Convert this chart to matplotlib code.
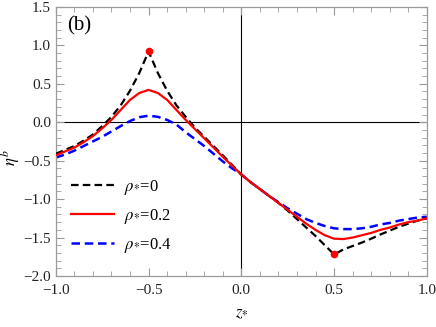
import numpy as np
import matplotlib
matplotlib.use('Agg')
import matplotlib.pyplot as plt
from matplotlib.ticker import MultipleLocator, FuncFormatter

plt.rcParams['font.family'] = 'Liberation Serif'
plt.rcParams['mathtext.fontset'] = 'stix'

z = [-1.00, -0.95, -0.90, -0.85, -0.80, -0.75, -0.70, -0.65, -0.60, -0.55,
     -0.50, -0.45, -0.40, -0.35, -0.30, -0.25, -0.20, -0.15, -0.10, -0.05,
     0.00, 0.05, 0.10, 0.15, 0.20, 0.25, 0.30, 0.35, 0.40, 0.45,
     0.50, 0.55, 0.60, 0.65, 0.70, 0.75, 0.80, 0.85, 0.90, 0.95, 1.00]

eta_rho0 = [-0.41, -0.36, -0.31, -0.24, -0.16, -0.05, 0.07, 0.22, 0.41, 0.64,
            0.92, 0.64, 0.41, 0.22, 0.07, -0.07, -0.19, -0.31, -0.43, -0.555,
            -0.68, -0.78, -0.87, -0.96, -1.05, -1.15, -1.26, -1.37, -1.48, -1.60,
            -1.72, -1.655, -1.61, -1.565, -1.515, -1.46, -1.41, -1.36, -1.32, -1.28, -1.25]

eta_rho02 = [-0.43, -0.38, -0.33, -0.26, -0.18, -0.08, 0.03, 0.16, 0.29, 0.38,
             0.42, 0.38, 0.29, 0.16, 0.03, -0.09, -0.21, -0.33, -0.45, -0.565,
             -0.68, -0.78, -0.87, -0.96, -1.05, -1.14, -1.23, -1.32, -1.40, -1.47,
             -1.515, -1.52, -1.50, -1.47, -1.44, -1.40, -1.37, -1.33, -1.30, -1.28, -1.25]

eta_rho04 = [-0.46, -0.42, -0.37, -0.31, -0.25, -0.19, -0.12, -0.05, 0.015, 0.065,
             0.085, 0.07, 0.03, -0.03, -0.13, -0.22, -0.31, -0.41, -0.51, -0.60,
             -0.68, -0.78, -0.87, -0.96, -1.04, -1.12, -1.19, -1.26, -1.31, -1.35,
             -1.38, -1.39, -1.39, -1.38, -1.36, -1.33, -1.31, -1.28, -1.26, -1.24, -1.23]

cusp_z = [-0.5, 0.5]
cusp_eta = [0.92, -1.72]

labels = [r'$\rho_{*}$=0', r'$\rho_{*}$=0.2', r'$\rho_{*}$=0.4']

fig = plt.figure(figsize=(4.36, 3.27), dpi=100)
ax = fig.add_axes([0.128, 0.156, 0.851, 0.823])

ax.axhline(0, color='black', lw=0.8, zorder=1)
ax.axvline(0, color='black', lw=0.8, zorder=1)

ax.plot(z, eta_rho0, color='black', lw=1.6, dashes=(3.4, 1.9), label=labels[0], zorder=3)
ax.plot(z, eta_rho02, color='red', lw=1.6, label=labels[1], zorder=3)
ax.plot(z, eta_rho04, color='blue', lw=1.8, dashes=(3.4, 1.9), label=labels[2], zorder=2)
ax.plot(cusp_z, cusp_eta, 'o', color='red', ms=4.5, zorder=4)

ax.set_xlim(-1, 1)
ax.set_ylim(-2, 1.5)
ax.xaxis.set_major_locator(MultipleLocator(0.5))
ax.xaxis.set_minor_locator(MultipleLocator(0.1))
ax.yaxis.set_major_locator(MultipleLocator(0.5))
ax.yaxis.set_minor_locator(MultipleLocator(0.1))
fmt = FuncFormatter(lambda v, p: ('%.1f' % v).replace('-', '\u2212'))
ax.xaxis.set_major_formatter(fmt)
ax.yaxis.set_major_formatter(fmt)

frame_col = '#9a9a9a'
for s in ax.spines.values():
    s.set_color(frame_col)
    s.set_linewidth(0.9)
ax.tick_params(which='both', direction='in', top=True, right=True, color=frame_col,
               labelsize=11, labelcolor='#222222')
ax.tick_params(which='major', length=6, width=0.8)
ax.tick_params(which='minor', length=3.5, width=0.6)
ax.tick_params(axis='x', which='major', pad=6)

ax.set_xlabel(r'$z_{*}$', fontsize=12, labelpad=5)
ax.set_ylabel(r'$\eta^{b}$', fontsize=12)
ax.yaxis.set_label_coords(-0.09, 0.44)

ax.text(0.03, 0.93, '(b)', transform=ax.transAxes, fontsize=15, va='center', ha='left')

ax.legend(loc='upper left', bbox_to_anchor=(0.0, 0.42), frameon=False, fontsize=12,
          handlelength=2.6, handletextpad=0.6, labelspacing=0.6)

fig.savefig('out.png', dpi=100)
